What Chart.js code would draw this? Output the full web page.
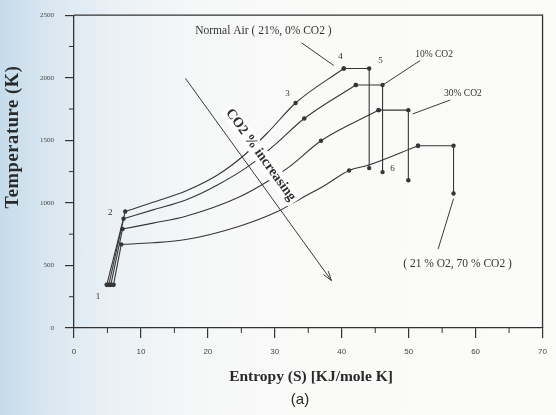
<!DOCTYPE html>
<html>
<head>
<meta charset="utf-8">
<script src="https://cdn.jsdelivr.net/npm/chart.js@4.4.1/dist/chart.umd.min.js"></script>
<style>
  html, body { margin: 0; padding: 0; }
  body {
    width: 556px; height: 415px; overflow: hidden;
    background: linear-gradient(90deg, #c6dbeb 0px, #d8e6f0 45px, #eaf0f5 110px, #f6f8f8 200px, #fafaf8 320px, #fbfbf9 100%);
  }
  canvas { display: block; }
</style>
</head>
<body>
<canvas id="c" width="556" height="415"></canvas>
<script>
// Entropy (S, KJ/mole K) and temperature (T, K) along each cycle curve
const airS   = [7.65, 11.8, 16.7, 21.5, 25.5, 29.0, 33.1, 40.3];
const airT   = [931, 1005, 1095, 1225, 1385, 1565, 1798, 2074];
const co2_10S = [7.4, 11.8, 16.7, 21.5, 26.5, 29.8, 34.4, 42.1];
const co2_10T = [873, 944, 1023, 1145, 1310, 1455, 1674, 1942];
const co2_30S = [7.25, 11.8, 16.7, 24.6, 29.2, 32.2, 36.9, 41.0, 45.5];
const co2_30T = [791, 838, 893, 1045, 1181, 1290, 1496, 1620, 1741];
const co2_70S = [7.06, 11.8, 16.7, 24.6, 30.4, 33.9, 37.5, 41.1, 43.9, 51.4];
const co2_70T = [668, 681, 707, 812, 931, 1035, 1141, 1259, 1300, 1457];

// index of state point 3 on each curve
const midPointIdx = [6, 6, 6, 7];

// state point 1 (compression start) for each mixture
const startS = [4.9, 5.2, 5.5, 5.9];
const startT = [345, 345, 345, 345];

// state point 5 entropy and state point 6 temperature
const endS = [44.1, 46.1, 49.95, 56.7];
const endT = [1278, 1246, 1181, 1075];

// tick values
const xTicks = [0, 10, 20, 30, 40, 50, 60, 70];
const yTicks = [0, 500, 1000, 1500, 2000, 2500];

const curveS = [airS, co2_10S, co2_30S, co2_70S];
const curveT = [airT, co2_10T, co2_30T, co2_70T];

const INK = '#363636';
const datasets = [];
curveS.forEach((S, k) => {
  const T = curveT[k];
  const n = S.length;
  const pts = S.map((s, i) => ({ x: s, y: T[i] }));
  const radii = S.map((s, i) => (i === 0 || i === n - 1 || i === midPointIdx[k]) ? 2.2 : 0);
  // steep compression line 1 -> 2
  datasets.push({
    data: [{ x: startS[k], y: startT[k] }, pts[0]],
    showLine: true, borderColor: INK, borderWidth: 1.1, tension: 0,
    pointRadius: [2.4, 0], pointBackgroundColor: INK, pointBorderWidth: 0
  });
  // heat addition curve 2 -> 3 -> 4
  datasets.push({
    data: pts,
    showLine: true, borderColor: INK, borderWidth: 1.1,
    cubicInterpolationMode: 'monotone',
    pointRadius: radii, pointBackgroundColor: INK, pointBorderWidth: 0
  });
  // constant temperature 4 -> 5, then drop 5 -> 6
  datasets.push({
    data: [pts[n - 1], { x: endS[k], y: T[n - 1] }, { x: endS[k], y: endT[k] }],
    showLine: true, borderColor: INK, borderWidth: 1.1, tension: 0,
    pointRadius: 2.2, pointBackgroundColor: INK, pointBorderWidth: 0
  });
});

// annotation text and leader lines, placed in data units
const notes = [
  { text: 'Normal Air ( 21%, 0% CO2 )', s: 28.3, t: 2374, size: 11.5 },
  { text: '10% CO2', s: 53.8, t: 2185, size: 9.5 },
  { text: '30% CO2', s: 58.1, t: 1877, size: 9.5 },
  { text: '( 21 % O2, 70 % CO2 )', s: 57.3, t: 513, size: 11.5 },
  { text: '1', s: 3.6, t: 247, size: 9 },
  { text: '2', s: 5.4, t: 923, size: 9 },
  { text: '3', s: 31.9, t: 1877, size: 9 },
  { text: '4', s: 39.8, t: 2169, size: 9 },
  { text: '5', s: 45.8, t: 2137, size: 9 },
  { text: '6', s: 47.6, t: 1272, size: 9 }
];
const leaders = [
  [34.0, 2279, 38.8, 2098],
  [51.7, 2137, 46.3, 1948],
  [56.2, 1822, 50.6, 1711],
  [56.7, 1033, 54.4, 631]
];
const arrow = [16.65, 1995, 38.46, 379];
const arrowText = { text: 'CO2 % increasing', s: 27.9, t: 1383 };

function spaced(ctx, px) {
  if ('letterSpacing' in ctx) ctx.letterSpacing = px + 'px';
}

const decor = {
  id: 'decor',
  afterDatasetsDraw(chart) {
    const ctx = chart.ctx;
    const xs = chart.scales.x, ys = chart.scales.y;
    const ca = chart.chartArea;
    const X = v => xs.getPixelForValue(v);
    const Y = v => ys.getPixelForValue(v);
    ctx.save();

    // frame: top and right edges
    ctx.strokeStyle = '#333';
    ctx.lineWidth = 1.3;
    ctx.beginPath();
    ctx.moveTo(ca.left, ca.top);
    ctx.lineTo(ca.right, ca.top);
    ctx.lineTo(ca.right, ca.bottom);
    ctx.stroke();

    // minor ticks
    ctx.lineWidth = 1;
    ctx.beginPath();
    for (let v = 5; v < 70; v += 10) {
      ctx.moveTo(X(v), ca.bottom); ctx.lineTo(X(v), ca.bottom + 5);
    }
    for (let v = 250; v < 2500; v += 500) {
      ctx.moveTo(ca.left, Y(v)); ctx.lineTo(ca.left - 5, Y(v));
    }
    ctx.stroke();

    // diagonal trend arrow with label
    const ax1 = X(arrow[0]), ay1 = Y(arrow[1]), ax2 = X(arrow[2]), ay2 = Y(arrow[3]);
    const ang = Math.atan2(ay2 - ay1, ax2 - ax1);
    const tx = X(arrowText.s), ty = Y(arrowText.t);
    ctx.font = 'bold 14px "Liberation Serif"';
    const tw = ctx.measureText(arrowText.text).width;
    ctx.save();
    ctx.translate(tx, ty);
    ctx.rotate(ang);
    ctx.fillStyle = '#fdfdfc';
    ctx.fillRect(-tw / 2 - 3, -8, tw + 6, 16);
    ctx.fillStyle = '#2e2e2e';
    ctx.textAlign = 'center';
    ctx.textBaseline = 'middle';
    ctx.fillText(arrowText.text, 0, 0);
    ctx.restore();

    ctx.strokeStyle = '#3a3a3a';
    ctx.lineWidth = 1;
    ctx.beginPath();
    ctx.moveTo(ax1, ay1); ctx.lineTo(ax2, ay2);
    ctx.moveTo(ax2, ay2);
    ctx.lineTo(ax2 - 10 * Math.cos(ang - 0.3), ay2 - 10 * Math.sin(ang - 0.3));
    ctx.moveTo(ax2, ay2);
    ctx.lineTo(ax2 - 10 * Math.cos(ang + 0.3), ay2 - 10 * Math.sin(ang + 0.3));
    ctx.stroke();

    // leader lines
    ctx.beginPath();
    leaders.forEach(l => { ctx.moveTo(X(l[0]), Y(l[1])); ctx.lineTo(X(l[2]), Y(l[3])); });
    ctx.stroke();

    // labels
    ctx.fillStyle = '#333';
    ctx.textAlign = 'center';
    ctx.textBaseline = 'middle';
    notes.forEach(n => {
      ctx.font = n.size + 'px "Liberation Serif"';
      ctx.fillText(n.text, X(n.s), Y(n.t));
    });

    // axis titles and panel tag
    ctx.fillStyle = '#2a2a2a';
    ctx.font = 'bold 15.5px "Liberation Serif"';
    ctx.fillText('Entropy (S) [KJ/mole K]', 311, 377);
    ctx.save();
    ctx.translate(13, 137);
    ctx.rotate(-Math.PI / 2);
    ctx.font = 'bold 18.5px "Liberation Serif"';
    spaced(ctx, 0.6);
    ctx.fillText('Temperature (K)', 0, 0);
    ctx.restore();
    spaced(ctx, 0);
    ctx.font = '15px "Liberation Sans"';
    ctx.fillText('(a)', 300, 400);
    ctx.restore();
  }
};

new Chart(document.getElementById('c'), {
  type: 'scatter',
  data: { datasets },
  options: {
    responsive: false,
    animation: false,
    layout: { padding: { left: 0, right: 8, top: 12, bottom: 0 } },
    plugins: { legend: { display: false }, tooltip: { enabled: false } },
    scales: {
      x: {
        type: 'linear', min: 0, max: 70,
        afterBuildTicks: s => { s.ticks = xTicks.map(v => ({ value: v })); },
        ticks: { font: { family: 'Liberation Sans', size: 8 }, color: '#444', padding: 9, maxRotation: 0,
                 callback: v => String(v) },
        grid: { drawOnChartArea: false, tickLength: 10, color: '#333', lineWidth: 1.2 },
        border: { color: '#333', width: 1.3 },
        afterFit: s => { s.height = 87; }
      },
      y: {
        type: 'linear', min: 0, max: 2500,
        afterBuildTicks: s => { s.ticks = yTicks.map(v => ({ value: v })); },
        ticks: { font: { family: 'Liberation Serif', size: 7 }, color: '#444', padding: 11,
                 callback: v => String(v) },
        grid: { drawOnChartArea: false, tickLength: 9, color: '#333', lineWidth: 1.2 },
        border: { color: '#333', width: 1.3 },
        afterFit: s => { s.width = 74; }
      }
    }
  },
  plugins: [decor]
});
</script>
</body>
</html>
